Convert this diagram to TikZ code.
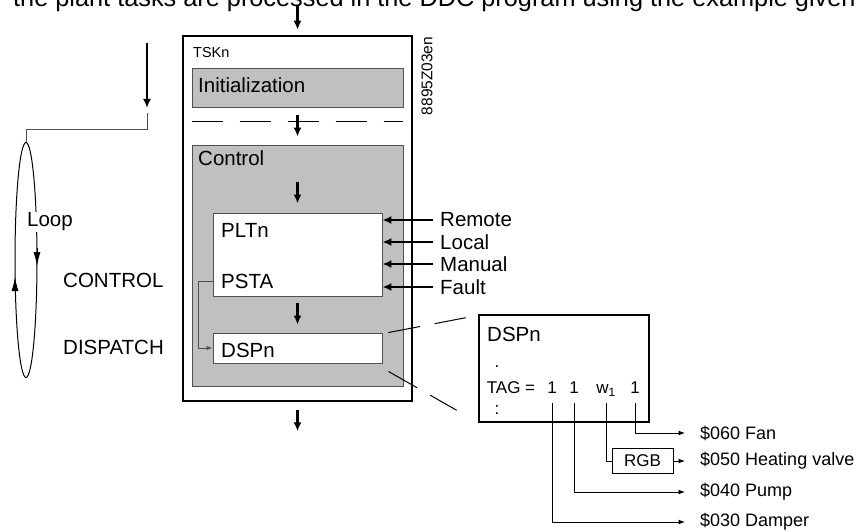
\documentclass[tikz,border=0pt]{standalone}
\usepackage{fontspec}
\setmainfont{Liberation Sans}
\usetikzlibrary{arrows.meta,calc}
\definecolor{tskgray}{RGB}{192,192,192}
\definecolor{tskedge}{RGB}{80,80,80}
\tikzstyle{flow} = [line width=2.4pt, -{Latex[length=9pt,width=8pt]}]
\tikzstyle{loopflow} = [line width=0.9pt, -{Latex[length=14pt,width=7pt]}]
\tikzstyle{thinflow} = [line width=1pt, -{Latex[length=6.5pt,width=5pt]}]
\tikzstyle{thinline} = [line width=1pt]
\tikzstyle{link} = [line width=1pt, draw=tskedge]
\tikzstyle{frame} = [rectangle, draw=black, line width=2.6pt, fill=white]
\tikzstyle{area} = [rectangle, draw=tskedge, line width=0.9pt, fill=tskgray]
\tikzstyle{block} = [rectangle, draw=tskedge, line width=0.9pt, fill=white]
\tikzstyle{txt} = [anchor=west, inner sep=0pt, font=\fontsize{20.5}{24}\selectfont]
\tikzstyle{outlbl} = [anchor=west, inner sep=0pt, font=\fontsize{18}{22}\selectfont]
\tikzstyle{val} = [anchor=base, inner sep=0pt, font=\fontsize{17}{20}\selectfont]

\begin{document}
\begin{tikzpicture}[x=1pt, y=-1pt]
\useasboundingbox (0,0) rectangle (861,532);

% running text above (cut by the page edge)
\node[anchor=base west, inner sep=0pt, font=\fontsize{25.3}{30}\selectfont] (heading) at (13,7)
  {the plant tasks are processed in the DDC program using the example given};

% task frame
\node[frame, minimum width=229pt, minimum height=365pt] (tsk) at (297.5,218.5) {};
\node[anchor=west, inner sep=0pt, font=\fontsize{14.5}{16}\selectfont] (tskname) at (193,53) {TSKn};
\node[rotate=90, inner sep=0pt, font=\fontsize{15.5}{18}\selectfont] (docid) at (427,76) {8895Z03en};

\node[area, minimum width=211pt, minimum height=39pt] (init) at (297.5,87.5) {};
\node[txt] (initname) at (198,85) {Initialization};

\coordinate (sep) at (297.5,121);
\draw[line width=1pt, dash pattern=on 31pt off 17pt] (sep -| init.west) -- (sep -| init.east);

\node[area, minimum width=211pt, minimum height=241pt] (ctrl) at (297.5,265.5) {};
\node[txt] (ctrlname) at (198,158) {Control};

\node[block, minimum width=169pt, minimum height=83pt] (plt) at (297.5,254.5) {};
\node[txt] (pltname) at (221,230) {PLTn};
\node[txt] (psta) at (221,281) {PSTA};

\node[block, minimum width=169pt, minimum height=30pt] (dsp) at (297.5,348) {};
\node[txt] (dspname) at (221,350) {DSPn};

% main flow
\draw[flow] ([yshift=29pt]tsk.north) -- ([yshift=5pt]tsk.north);
\draw[flow] ([yshift=-8pt]init.south) -- ([yshift=8pt]ctrl.north);
\draw[flow] ([yshift=31pt]plt.north) -- ([yshift=9pt]plt.north);
\draw[flow] ([yshift=-7pt]plt.south) -- ([yshift=8pt]dsp.north);
\draw[flow] ([yshift=-8pt]tsk.south) -- ([yshift=-29pt]tsk.south);
\draw[link, -{Latex[length=6pt,width=4.5pt]}] (psta.west -| plt.west) -- ++(-14,0) |- (dsp.west);

% plant inputs
\node[txt] (remote) at (440,220) {Remote};
\node[txt] (local) at (440,242) {Local};
\node[txt] (manual) at (440,264) {Manual};
\node[txt] (fault) at (440,287) {Fault};
\foreach \inp in {remote,local,manual,fault}
  \draw[flow] ([xshift=-7pt]\inp.west) -- (\inp.west -| plt.east);

% loop on the left
\coordinate (loopin) at (147,43);
\coordinate (loopjoin) at (147,113);
\coordinate (looptop) at (26,142.5);
\draw[flow] (loopin) -- ++(0,65);
\draw[link] (loopjoin) -- ++(0,16) -| (looptop);
\draw[thinline] (26,260) ellipse [x radius=11pt, y radius=117.5pt];
\draw[loopflow] (37,248) -- (37,266);
\draw[loopflow] (15,294) -- (15,277);
\node[txt, fill=white, inner sep=1pt] (loop) at (26,222) {Loop};
\node[txt] (control) at (63,280) {CONTROL};
\node[txt] (dispatch) at (63,347) {DISPATCH};

% dispatcher detail
\node[frame, minimum width=170pt, minimum height=107pt] (dspbig) at (564,368.5) {};
\node[txt] (dspbigname) at (487,334.5) {DSPn};
\node[val] (dot) at (497,367) {.};
\node[val] (tag) at (511,393.5) {TAG =};
\node[val] (colon) at (497,414) {:};
\node[val] (v1) at (552,393.5) {1};
\node[val] (v2) at (574,393.5) {1};
\node[val] (v3) at (606,393.5) {w\textsubscript{1}};
\node[val] (v4) at (635,393.5) {1};

\draw[thinline, dash pattern=on 32pt off 15pt on 40pt] ($(dsp.north east)+(6,0)$) -- ($(dspbig.north west)+(-12,4)$);
\draw[thinline, dash pattern=on 33pt off 15pt on 40pt] ($(dsp.south east)+(6,8)$) -- ($(dspbig.south west)+(-21,-13)$);

\node[outlbl] (fan) at (700,433) {\$060 Fan};
\node[outlbl] (heat) at (700,461) {\$050 Heating valve};
\node[outlbl] (pump) at (700,492) {\$040 Pump};
\node[outlbl] (damper) at (700,522) {\$030 Damper};
\node[rectangle, draw=black, line width=1pt, minimum width=61pt, minimum height=25pt,
  inner sep=0pt, font=\fontsize{17}{20}\selectfont] (rgb) at (642.5,461) {RGB};

\draw[thinflow] ([yshift=-9.5pt]v4.base) |- ([xshift=-15pt]fan.west);
\draw[thinline] ([yshift=-9.5pt]v3.base) |- (rgb.west);
\draw[thinflow] (rgb.east) -- ([xshift=-15pt]heat.west);
\draw[thinflow] ([yshift=-9.5pt]v2.base) |- ([xshift=-15pt]pump.west);
\draw[thinflow] ([yshift=-9.5pt]v1.base) |- ([xshift=-15pt]damper.west);
\end{tikzpicture}
\end{document}
